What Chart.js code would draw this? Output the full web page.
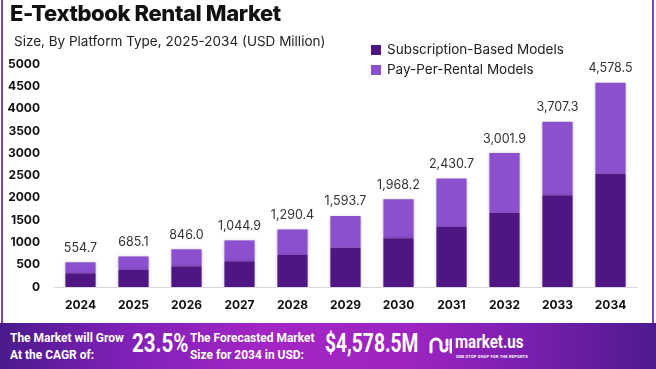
<!DOCTYPE html>
<html>
<head>
<meta charset="utf-8">
<script src="https://cdn.jsdelivr.net/npm/chart.js@4"></script>
<style>
  html, body { margin: 0; padding: 0; background: #fff; }
  body { width: 656px; height: 369px; position: relative; overflow: hidden; font-family: Inter, "Open Sans", sans-serif; }
  #frame { position: absolute; left: 0; top: 0; width: 656px; height: 323px; }
  #frame:before, #frame:after { content: ''; position: absolute; top: 0; bottom: 0; width: 2px; background: #7e44c4; }
  #frame:before { left: 1px; }
  #frame:after { left: 652px; }
  #chartBox { position: absolute; left: 0; top: 0; width: 656px; height: 323px; }
  .title { position: absolute; left: 10px; top: 0px; font-size: 22px; font-weight: 800; color: #111; letter-spacing: -0.4px; }
  .subtitle { position: absolute; left: 14px; top: 33px; font-size: 13.5px; color: #222; }
  .legend { position: absolute; left: 371px; top: 39px; font-size: 13.5px; color: #222; }
  .legend div { height: 20px; line-height: 20px; }
  .legend span { display: inline-block; width: 10px; height: 10px; margin-right: 6px; vertical-align: -1px; }
  #footer { position: absolute; left: 0; top: 323px; width: 656px; height: 46px; color: #fff; font-weight: 700; font-family: Roboto, sans-serif;
    background: linear-gradient(90deg, #4a1a8c 0%, #7d20b6 18%, #a226c4 40%, #9e24c2 62%, #7a1fb0 80%, #4f1a8e 100%); }
  #footer .t { position: absolute; font-size: 13px; line-height: 17px; transform-origin: left top; white-space: nowrap; }
  #footer .big { position: absolute; font-size: 25px; top: 6px; transform-origin: left top; white-space: nowrap; }
  .logo { position: absolute; left: 455px; top: 8px; font-size: 18px; font-weight: 700; transform: scaleX(0.84); transform-origin: left top; }
  .tag { position: absolute; left: 456px; top: 31px; font-size: 4px; letter-spacing: 0.2px; font-weight: 700; white-space: nowrap; }
</style>
</head>
<body>
<div id="frame"></div>
<div id="chartBox"><canvas id="myChart"></canvas></div>
<div class="title">E-Textbook Rental Market</div>
<div class="subtitle">Size, By Platform Type, 2025-2034 (USD Million)</div>
<div class="legend">
  <div><span style="background:#4f1582"></span>Subscription-Based Models</div>
  <div><span style="background:#8c50cf"></span>Pay-Per-Rental Models</div>
</div>
<div id="footer">
  <div class="t" style="left:10px;top:6px;transform:scaleX(0.92)">The Market will Grow<br>At the CAGR of:</div>
  <div class="big" style="left:132px;transform:scaleX(0.82)">23.5%</div>
  <div class="t" style="left:190px;top:6px;transform:scaleX(0.92)">The Forecasted Market<br>Size for 2034 in USD:</div>
  <div class="big" style="left:325px;transform:scaleX(0.77)">$4,578.5M</div>
  <div class="logo">market.us</div>
  <div class="tag">ONE STOP SHOP FOR THE REPORTS</div>
  <svg style="position:absolute;left:428px;top:11px" width="24" height="24" viewBox="0 0 24 24" fill="none" stroke="#fff" stroke-width="3" stroke-linecap="round">
    <path d="M3 18 V10 a5 5 0 0 1 10 0 V14 a3 3 0 0 0 6 0"/><path d="M19 6 V11"/><path d="M23 6 V18"/>
  </svg>
</div>
<script>
// data
const years = ['2024', '2025', '2026', '2027', '2028', '2029', '2030', '2031', '2032', '2033', '2034'];
const totals = [554.7, 685.1, 846.0, 1044.9, 1290.4, 1593.7, 1968.2, 2430.7, 3001.9, 3707.3, 4578.5];
const subscription = [307, 381, 464, 576, 717, 881, 1092, 1345, 1666, 2056, 2540];
const payPerRental = [247.7, 304.1, 382.0, 468.9, 573.4, 712.7, 876.2, 1085.7, 1335.9, 1651.3, 2038.5];

const ctx = document.getElementById('myChart').getContext('2d');

// bar shadows
const shadowPlugin = {
    id: 'shadow',
    beforeDatasetsDraw(chart) {
        chart.ctx.save();
        chart.ctx.shadowColor = 'rgba(0,0,0,0.22)';
        chart.ctx.shadowBlur = 3;
    },
    afterDatasetsDraw(chart) {
        chart.ctx.restore();
    }
};

// totals above stacks
const totalLabels = {
    id: 'totalLabels',
    afterDatasetsDraw(chart) {
        const c = chart.ctx;
        const meta = chart.getDatasetMeta(1);
        c.save();
        c.font = '12.5px Inter, "Open Sans", sans-serif';
        c.fillStyle = '#333';
        c.textAlign = 'center';
        c.textBaseline = 'bottom';
        meta.data.forEach((bar, i) => {
            c.fillText(totals[i].toLocaleString('en-US', { minimumFractionDigits: 1 }), bar.x, bar.y - 8);
        });
        c.restore();
    }
};

new Chart(ctx, {
    type: 'bar',
    data: {
        labels: years,
        datasets: [
            { label: 'Subscription-Based Models', data: subscription, backgroundColor: '#4f1582' },
            { label: 'Pay-Per-Rental Models', data: payPerRental, backgroundColor: '#8c50cf' }
        ]
    },
    options: {
        responsive: true,
        maintainAspectRatio: false,
        animation: false,
        layout: { padding: { top: 64, left: 0, right: 19, bottom: 0 } },
        datasets: { bar: { barPercentage: 0.57, categoryPercentage: 1 } },
        plugins: { legend: { display: false }, tooltip: { enabled: false } },
        scales: {
            x: {
                stacked: true,
                grid: { display: false, drawTicks: false },
                border: { display: true, color: '#d8d8d8' },
                afterFit: (scale) => { scale.height = 36; },
                ticks: { color: '#111', font: { family: 'Inter', size: 12, weight: 'bold' }, padding: 11 }
            },
            y: {
                stacked: true,
                min: 0,
                max: 5000,
                grid: { display: false, drawTicks: false },
                border: { display: false },
                afterFit: (scale) => { scale.width = 54; },
                ticks: {
                    stepSize: 500,
                    color: '#111',
                    font: { family: 'Inter', size: 12, weight: 'bold' },
                    padding: 14,
                    callback: (v) => String(v)
                }
            }
        }
    },
    plugins: [shadowPlugin, totalLabels]
});
</script>
</body>
</html>
